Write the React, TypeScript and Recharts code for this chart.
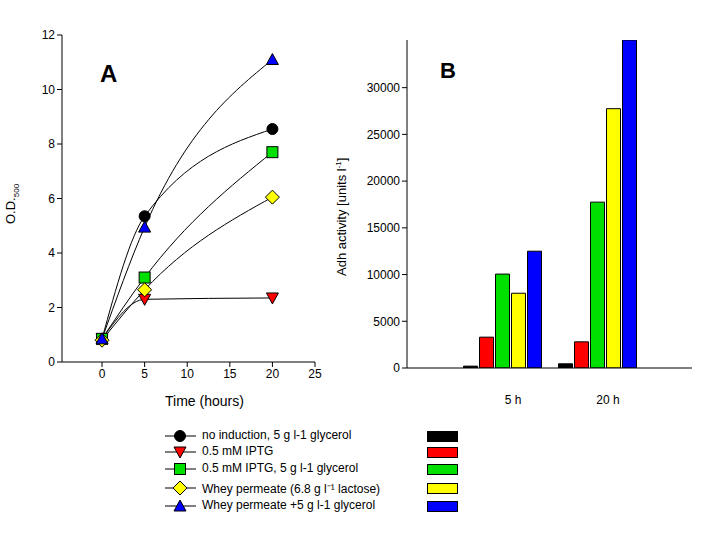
import React from 'react';
import { LineChart, Line, BarChart, Bar, XAxis, YAxis } from 'recharts';

const hours = [0, 5, 20];
const noInduction = [0.85, 5.35, 8.55];
const iptg = [0.85, 2.3, 2.35];
const iptgGlycerol = [0.85, 3.1, 7.7];
const whey = [0.8, 2.65, 6.05];
const wheyGlycerol = [0.85, 4.95, 11.1];

const barCategories = ['5 h', '20 h'];
const barBlack = [200, 450];
const barRed = [3300, 2800];
const barGreen = [10050, 17750];
const barYellow = [8000, 27750];
const barBlue = [12500, 35100];

const legendLabels = [
    'no induction, 5 g l-1 glycerol',
    '0.5 mM IPTG',
    '0.5 mM IPTG, 5 g l-1 glycerol',
    'Whey permeate (6.8 g l\u207B\u00B9 lactose)',
    'Whey permeate +5 g l-1 glycerol',
];

const FONT = '"Liberation Sans", Arial, sans-serif';

const series = [
    { key: 'noInduction', values: noInduction, color: '#000000', shape: 'circle' },
    { key: 'iptg', values: iptg, color: '#ff0000', shape: 'down' },
    { key: 'iptgGlycerol', values: iptgGlycerol, color: '#00e000', shape: 'square' },
    { key: 'whey', values: whey, color: '#ffff00', shape: 'diamond' },
    { key: 'wheyGlycerol', values: wheyGlycerol, color: '#0000ff', shape: 'up' },
];

const lineData = hours.map((h, i) => {
    const row: any = { h };
    series.forEach(s => { row[s.key] = s.values[i]; });
    return row;
});

const barData = barCategories.map((c, i) => ({
    c, black: barBlack[i], red: barRed[i], green: barGreen[i], yellow: barYellow[i], blue: barBlue[i],
}));

function Marker({ cx, cy, shape, color }: any) {
    const s = 'black';
    if (shape === 'circle') return <circle cx={cx} cy={cy} r={5.5} fill={color} stroke={s} />;
    if (shape === 'square') return <rect x={cx - 5.5} y={cy - 5.5} width={11} height={11} fill={color} stroke={s} />;
    if (shape === 'diamond') return <polygon points={`${cx},${cy - 7} ${cx + 7},${cy} ${cx},${cy + 7} ${cx - 7},${cy}`} fill={color} stroke={s} />;
    if (shape === 'down') return <polygon points={`${cx - 6},${cy - 5} ${cx + 6},${cy - 5} ${cx},${cy + 6}`} fill={color} stroke={s} />;
    return <polygon points={`${cx - 6},${cy + 5} ${cx + 6},${cy + 5} ${cx},${cy - 6}`} fill={color} stroke={s} />;
}

const tickStyle = { fill: '#000', fontSize: 12, fontFamily: FONT };

function BarTick({ x, y, payload }: any) {
    return <text x={x + 11} y={y + 28} textAnchor="middle" style={tickStyle}>{payload.value}</text>;
}

export default function App() {
    return (
        <div style={{ position: 'fixed', left: 0, top: 0, width: 718, height: 542, background: '#fff', fontFamily: FONT }}>
            <div style={{ position: 'absolute', left: 0, top: 0 }}>
                <LineChart width={330} height={420} data={lineData} margin={{ top: 35, right: 15, left: 22, bottom: 28 }}>
                    <XAxis dataKey="h" type="number" domain={[-4.7, 25]} ticks={[0, 5, 10, 15, 20, 25]} allowDataOverflow
                        stroke="#000" tick={tickStyle} tickSize={5} height={30} />
                    <XAxis xAxisId="top" orientation="top" type="number" domain={[-4.7, 25]} tick={false} stroke="#000" height={0} />
                    <YAxis domain={[0, 12]} ticks={[0, 2, 4, 6, 8, 10, 12]} stroke="#000" tick={tickStyle} tickSize={5} width={40} />
                    <YAxis yAxisId="right" orientation="right" domain={[0, 12]} tick={false} stroke="#000" width={0} />
                    {series.map(s => (
                        <Line key={s.key} type="monotone" dataKey={s.key} stroke="#000" strokeWidth={1} isAnimationActive={false}
                            dot={(p: any) => <Marker key={p.index} cx={p.cx} cy={p.cy} shape={s.shape} color={s.color} />} />
                    ))}
                </LineChart>
            </div>
            <div style={{ position: 'absolute', left: 100, top: 60, fontSize: 24, fontWeight: 700 }}>A</div>
            <div style={{ position: 'absolute', left: 6, top: 190, fontSize: 12, transform: 'rotate(-90deg)', transformOrigin: '0 0', top2: 0 } as any}>
            </div>
            <div style={{ position: 'absolute', left: 3, top: 224, fontSize: 13, transform: 'rotate(-90deg)', transformOrigin: '0 0', whiteSpace: 'nowrap' }}>
                O.D.<sub style={{ fontSize: 8 }}>500</sub>
            </div>
            <div style={{ position: 'absolute', left: 165, top: 393, fontSize: 14 }}>Time (hours)</div>

            <div style={{ position: 'absolute', left: 330, top: 0 }}>
                <BarChart width={388} height={420} data={barData} margin={{ top: 40, right: 26, left: 22, bottom: 22 }}
                    barSize={14} barGap={2} barCategoryGap={15}>
                    <XAxis dataKey="c" stroke="#000" tickLine={false} tick={<BarTick />} padding={{ left: 47.5, right: 47.5 }} height={30} />
                    <XAxis xAxisId="top" orientation="top" dataKey="c" tick={false} stroke="#000" height={0} />
                    <YAxis domain={[0, 35100]} ticks={[0, 5000, 10000, 15000, 20000, 25000, 30000]} allowDataOverflow
                        stroke="#000" tick={tickStyle} tickSize={5} width={55} />
                    <YAxis yAxisId="right" orientation="right" domain={[0, 35100]} tick={false} stroke="#000" width={0} />
                    <Bar dataKey="black" fill="#000000" stroke="#000" isAnimationActive={false} />
                    <Bar dataKey="red" fill="#ff0000" stroke="#000" isAnimationActive={false} />
                    <Bar dataKey="green" fill="#00e000" stroke="#000" isAnimationActive={false} />
                    <Bar dataKey="yellow" fill="#ffff00" stroke="#000" isAnimationActive={false} />
                    <Bar dataKey="blue" fill="#0000ff" stroke="#000" isAnimationActive={false} />
                </BarChart>
            </div>
            <div style={{ position: 'absolute', left: 440, top: 58, fontSize: 22, fontWeight: 700 }}>B</div>
            <div style={{ position: 'absolute', left: 334, top: 276, fontSize: 13, transform: 'rotate(-90deg)', transformOrigin: '0 0', whiteSpace: 'nowrap' }}>
                Adh activity [units l<sup style={{ fontSize: 8 }}>-1</sup>]
            </div>

            {legendLabels.map((l, i) => {
                const y = [436, 452, 469, 488, 506][i];
                const s = series[i];
                return (
                    <React.Fragment key={l}>
                        <svg style={{ position: 'absolute', left: 163, top: y - 8 }} width={36} height={16}>
                            <line x1={2} y1={8} x2={33} y2={8} stroke="#000" />
                            <Marker cx={17} cy={8} shape={s.shape} color={s.color} />
                        </svg>
                        <div style={{ position: 'absolute', left: 202, top: y - 8, fontSize: 12, whiteSpace: 'nowrap' }}>{l}</div>
                        <div style={{ position: 'absolute', left: 427, top: y - 5, width: 29, height: 9, background: s.color, border: '1px solid #000' }} />
                    </React.Fragment>
                );
            })}
        </div>
    );
}
